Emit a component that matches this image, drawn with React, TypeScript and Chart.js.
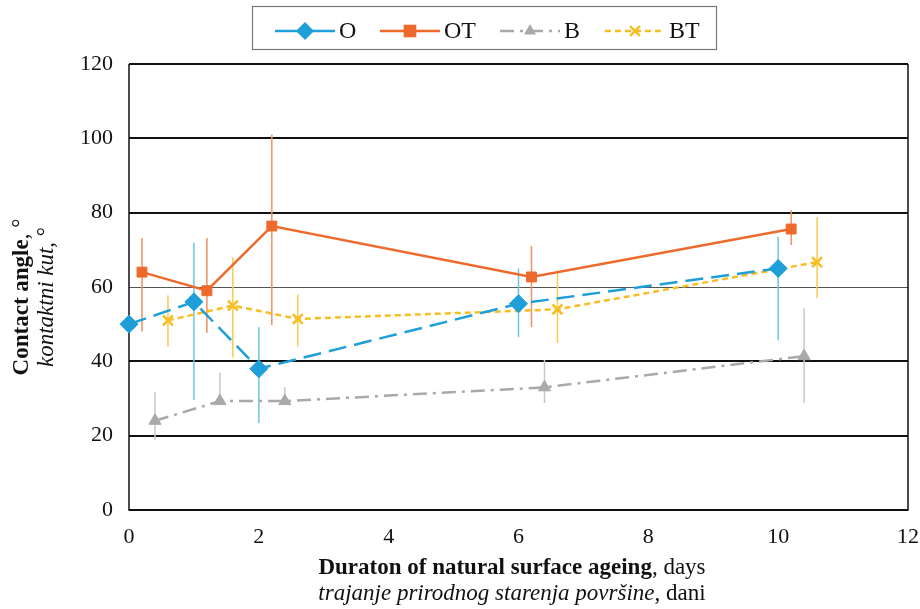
import React, { useEffect, useRef } from "react";
import { Chart, registerables } from "chart.js";

Chart.register(...registerables);

const seriesNames = ["O", "OT", "B", "BT"];
const xO = [0, 1, 2, 6, 10];
const yO = [50, 56, 38, 55.5, 65];
const errO: (number[] | null)[] = [null, [29.6, 72], [23.4, 49.2], [46.5, 65], [45.7, 73.5]];
const xOT = [0.2, 1.2, 2.2, 6.2, 10.2];
const yOT = [64, 59, 76.4, 62.7, 75.6];
const errOT: (number[] | null)[] = [[48, 73.2], [47.6, 73.2], [49.8, 101], [49.2, 71], [71.3, 80.7]];
const xB = [0.4, 1.4, 2.4, 6.4, 10.4];
const yB = [24, 29.3, 29.3, 33, 41.4];
const errB: (number[] | null)[] = [[18.8, 31.7], [29.3, 36.9], [29.3, 33], [28.8, 40.4], [28.8, 54.3]];
const xBT = [0.6, 1.6, 2.6, 6.6, 10.6];
const yBT = [51, 55, 51.4, 54, 66.7];
const errBT: (number[] | null)[] = [[43.9, 57.8], [41, 68], [44, 58], [45, 63.8], [57, 78.8]];
const xTicks = [0, 2, 4, 6, 8, 10, 12];
const yTicks = [0, 20, 40, 60, 80, 100, 120];

const colors = ["#1E9FD8", "#EE6A2C", "#A9A9A9", "#F7BE23"];
const errColors = ["#6CC3E8", "#F0915F", "#C8C8C8", "#F7CB4E"];
const dashes = [[18, 8], [], [14, 6, 3, 6], [6, 4]];
const legendDashes = [[], [], [14, 6, 3, 6], [6, 4]];
const pointStyles = ["rectRot", "rect", "triangle", "crossRot"];
const pointRadii = [9, 7, 7, 7];

const FONT = "'Liberation Serif', 'Times New Roman', serif";

function toPts(xs: number[], ys: number[]) {
  return xs.map((x, i) => ({ x, y: ys[i] }));
}

export default function App() {
  const ref = useRef<HTMLCanvasElement | null>(null);
  useEffect(() => {
    if (!ref.current) return;
    const xsAll = [xO, xOT, xB, xBT];
    const ysAll = [yO, yOT, yB, yBT];
    const errs = [errO, errOT, errB, errBT];

    function drawPoint(ctx: CanvasRenderingContext2D, style: string, r: number, x: number, y: number, c: string) {
      ctx.save();
      ctx.fillStyle = c;
      ctx.strokeStyle = c;
      ctx.lineWidth = 2.5;
      ctx.beginPath();
      if (style === "rectRot") {
        ctx.moveTo(x, y - r);
        ctx.lineTo(x + r, y);
        ctx.lineTo(x, y + r);
        ctx.lineTo(x - r, y);
        ctx.closePath();
        ctx.fill();
      } else if (style === "rect") {
        const s = r * 0.9;
        ctx.rect(x - s, y - s, 2 * s, 2 * s);
        ctx.fill();
      } else if (style === "triangle") {
        ctx.moveTo(x, y - r);
        ctx.lineTo(x + r * 0.87, y + r * 0.5);
        ctx.lineTo(x - r * 0.87, y + r * 0.5);
        ctx.closePath();
        ctx.fill();
      } else {
        const d = r * 0.7;
        ctx.moveTo(x - d, y - d);
        ctx.lineTo(x + d, y + d);
        ctx.moveTo(x + d, y - d);
        ctx.lineTo(x - d, y + d);
        ctx.stroke();
      }
      ctx.restore();
    }

    const errorPlugin = {
      id: "errbars",
      beforeDatasetsDraw(chart: any) {
        const ctx = chart.ctx;
        const xs = chart.scales.x;
        const ys = chart.scales.y;
        ctx.save();
        errs.forEach((arr, si) => {
          ctx.strokeStyle = errColors[si];
          ctx.lineWidth = 1.5;
          arr.forEach((e, i) => {
            if (!e) return;
            const px = xs.getPixelForValue(xsAll[si][i]);
            ctx.beginPath();
            ctx.moveTo(px, ys.getPixelForValue(e[0]));
            ctx.lineTo(px, ys.getPixelForValue(e[1]));
            ctx.stroke();
          });
        });
        ctx.restore();
      },
    };

    const framePlugin = {
      id: "frame",
      beforeDatasetsDraw(chart: any) {
        const ctx = chart.ctx;
        const a = chart.chartArea;
        ctx.save();
        ctx.strokeStyle = "#111";
        ctx.lineWidth = 1.5;
        ctx.beginPath();
        ctx.moveTo(a.left, a.top);
        ctx.lineTo(a.left, a.bottom);
        ctx.lineTo(a.right, a.bottom);
        ctx.lineTo(a.right, a.top);
        ctx.stroke();
        ctx.restore();
      },
      afterDraw(chart: any) {
        const ctx = chart.ctx;
        ctx.save();
        // axis titles
        ctx.fillStyle = "#111";
        ctx.textBaseline = "middle";
        const drawMixed = (parts: [string, string][], cx: number, cy: number) => {
          let total = 0;
          parts.forEach(([t, f]) => {
            ctx.font = f;
            total += ctx.measureText(t).width;
          });
          let x = cx - total / 2;
          ctx.textAlign = "left";
          parts.forEach(([t, f]) => {
            ctx.font = f;
            ctx.fillText(t, x, cy);
            x += ctx.measureText(t).width;
          });
        };
        drawMixed([["Duraton of natural surface ageing", `bold 23px ${FONT}`], [", days", `23px ${FONT}`]], 512, 568);
        drawMixed([["trajanje prirodnog starenja površine", `italic 23px ${FONT}`], [", dani", `23px ${FONT}`]], 512, 594);
        ctx.save();
        ctx.translate(22, 297);
        ctx.rotate(-Math.PI / 2);
        drawMixed([["Contact angle", `bold 23px ${FONT}`], [", °", `23px ${FONT}`]], 0, 0);
        ctx.restore();
        ctx.save();
        ctx.translate(47, 297);
        ctx.rotate(-Math.PI / 2);
        drawMixed([["kontaktni kut", `italic 23px ${FONT}`], [", °", `23px ${FONT}`]], 0, 0);
        ctx.restore();

        // legend
        ctx.strokeStyle = "#777";
        ctx.lineWidth = 1.2;
        ctx.strokeRect(252.5, 6.5, 464, 43);
        const starts = [275, 380, 500, 605];
        seriesNames.forEach((name, si) => {
          const x0 = starts[si];
          const y0 = 31;
          ctx.strokeStyle = colors[si];
          ctx.lineWidth = 2.5;
          ctx.setLineDash(legendDashes[si]);
          ctx.beginPath();
          ctx.moveTo(x0, y0);
          ctx.lineTo(x0 + 60, y0);
          ctx.stroke();
          ctx.setLineDash([]);
          drawPoint(ctx, pointStyles[si], pointRadii[si], x0 + 30, y0, colors[si]);
          ctx.fillStyle = "#111";
          ctx.font = `24px ${FONT}`;
          ctx.textAlign = "left";
          ctx.fillText(name, x0 + 64, y0 + 1);
        });
        ctx.restore();
      },
    };

    const datasets = seriesNames.map((name, si) => ({
      label: name,
      data: toPts(xsAll[si], ysAll[si]),
      borderColor: colors[si],
      backgroundColor: colors[si],
      borderWidth: 2.5,
      borderDash: dashes[si],
      pointStyle: pointStyles[si],
      pointRadius: pointRadii[si],
      pointBorderWidth: si === 3 ? 2.5 : 1,
      pointBorderColor: colors[si],
      pointBackgroundColor: colors[si],
      tension: 0,
      showLine: true,
      clip: false,
    }));

    const chart = new Chart(ref.current, {
      type: "scatter",
      data: { datasets: datasets as any },
      options: {
        animation: false,
        responsive: false,
        maintainAspectRatio: false,
        layout: { padding: { top: 64, right: 12, left: 0, bottom: 0 } },
        plugins: { legend: { display: false }, tooltip: { enabled: false } },
        scales: {
          x: {
            type: "linear",
            min: 0,
            max: 12,
            afterBuildTicks: (s: any) => {
              s.ticks = xTicks.map((v) => ({ value: v }));
            },
            afterFit: (s: any) => {
              s.height = 99;
              s.paddingRight = 0;
              s.paddingLeft = 0;
            },
            grid: { display: false, drawTicks: false },
            border: { display: false },
            ticks: {
              padding: 14,
              color: "#111",
              font: { family: FONT, size: 22 },
              maxRotation: 0,
            },
          },
          y: {
            type: "linear",
            min: 0,
            max: 120,
            afterBuildTicks: (s: any) => {
              s.ticks = yTicks.map((v) => ({ value: v }));
            },
            afterFit: (s: any) => {
              s.width = 129;
              s.paddingTop = 0;
              s.paddingBottom = 0;
            },
            grid: {
              drawTicks: false,
              color: (c: any) => (c.tick && c.tick.value === 60 ? "#555" : "#111"),
              lineWidth: (c: any) => (c.tick && c.tick.value === 60 ? 1 : 2),
            },
            border: { display: false },
            ticks: {
              padding: 16,
              color: "#111",
              font: { family: FONT, size: 22 },
            },
          },
        },
      },
      plugins: [errorPlugin, framePlugin],
    } as any);
    return () => chart.destroy();
  }, []);
  return (
    <div style={{ position: "fixed", left: 0, top: 0, width: 920, height: 609, background: "#fff" }}>
      <canvas ref={ref} width={920} height={609} style={{ width: 920, height: 609 }} />
    </div>
  );
}
